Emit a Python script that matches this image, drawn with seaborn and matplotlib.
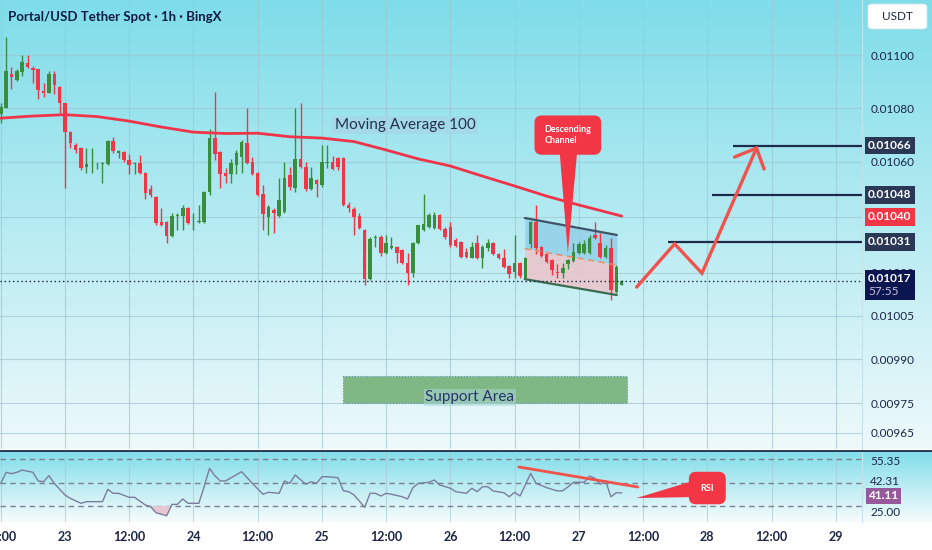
import numpy as np
import matplotlib
matplotlib.use('Agg')
import matplotlib.pyplot as plt
import matplotlib.transforms as mtransforms
from matplotlib.patches import Polygon, FancyBboxPatch
from matplotlib.lines import Line2D
from matplotlib.colors import LinearSegmentedColormap
from matplotlib.ticker import FixedLocator, NullLocator
import seaborn as sns

sns.set_style('white')
plt.rcParams['font.family'] = ['Lato', 'DejaVu Sans']

# ---------------- data ----------------
hours = list(range(117))  # hourly candles from 22 12:00
open_ = [0.010777, 0.010800, 0.010928, 0.010905, 0.010935, 0.010969, 0.010950, 0.010947, 0.010864, 0.010856,
         0.010928, 0.010879, 0.010819, 0.010710, 0.010662, 0.010651, 0.010581, 0.010592, 0.010592, 0.010592,
         0.010592, 0.010677, 0.010633, 0.010636, 0.010607, 0.010592, 0.010596, 0.010559, 0.010501, 0.010471,
         0.010381, 0.010381, 0.010331, 0.010403, 0.010403, 0.010432, 0.010381, 0.010381, 0.010381, 0.010490,
         0.010688, 0.010636, 0.010559, 0.010556, 0.010588, 0.010618, 0.010669, 0.010599, 0.010559, 0.010483,
         0.010399, 0.010425, 0.010403, 0.010417, 0.010552, 0.010504, 0.010610, 0.010581, 0.010501, 0.010534,
         0.010515, 0.010596, 0.010599, 0.010614, 0.010614, 0.010443, 0.010428, 0.010403, 0.010353, 0.010178,
         0.010324, 0.010327, 0.010271, 0.010288, 0.010292, 0.010281, 0.010235, 0.010199, 0.010306, 0.010353,
         0.010363, 0.010360, 0.010407, 0.010356, 0.010363, 0.010317, 0.010310, 0.010274, 0.010253, 0.010306,
         0.010253, 0.010288, 0.010306, 0.010267, 0.010253, 0.010224, 0.010203, 0.010235, 0.010182, 0.010302,
         0.010381, 0.010292, 0.010267, 0.010246, 0.010203, 0.010199, 0.010232, 0.010242, 0.010271, 0.010271,
         0.010271, 0.010335, 0.010306, 0.010256, 0.010288, 0.010132, 0.010157]
high = [0.010819, 0.011069, 0.010954, 0.010947, 0.011000, 0.011000, 0.010958, 0.010947, 0.010894, 0.010939,
        0.010939, 0.010882, 0.010819, 0.010714, 0.010669, 0.010655, 0.010651, 0.010651, 0.010599, 0.010599,
        0.010681, 0.010692, 0.010644, 0.010640, 0.010629, 0.010599, 0.010625, 0.010563, 0.010515, 0.010475,
        0.010432, 0.010385, 0.010414, 0.010414, 0.010443, 0.010435, 0.010414, 0.010443, 0.010493, 0.010721,
        0.010860, 0.010640, 0.010577, 0.010610, 0.010644, 0.010681, 0.010800, 0.010618, 0.010563, 0.010515,
        0.010443, 0.010432, 0.010541, 0.010599, 0.010581, 0.010800, 0.010819, 0.010599, 0.010581, 0.010537,
        0.010662, 0.010662, 0.010621, 0.010618, 0.010618, 0.010454, 0.010435, 0.010414, 0.010356, 0.010327,
        0.010335, 0.010335, 0.010335, 0.010327, 0.010295, 0.010285, 0.010271, 0.010310, 0.010371, 0.010483,
        0.010414, 0.010417, 0.010410, 0.010363, 0.010381, 0.010324, 0.010313, 0.010288, 0.010310, 0.010335,
        0.010299, 0.010320, 0.010310, 0.010271, 0.010285, 0.010228, 0.010335, 0.010239, 0.010256, 0.010385,
        0.010443, 0.010295, 0.010271, 0.010249, 0.010232, 0.010235, 0.010249, 0.010306, 0.010310, 0.010317,
        0.010335, 0.010381, 0.010342, 0.010299, 0.010324, 0.010228, 0.010175]
low = [0.010744, 0.010800, 0.010871, 0.010901, 0.010920, 0.010950, 0.010894, 0.010834, 0.010841, 0.010856,
       0.010852, 0.010781, 0.010504, 0.010651, 0.010633, 0.010570, 0.010559, 0.010559, 0.010574, 0.010523,
       0.010588, 0.010633, 0.010614, 0.010599, 0.010556, 0.010556, 0.010556, 0.010464, 0.010471, 0.010371,
       0.010367, 0.010306, 0.010327, 0.010353, 0.010353, 0.010374, 0.010353, 0.010378, 0.010378, 0.010479,
       0.010607, 0.010504, 0.010523, 0.010523, 0.010556, 0.010559, 0.010592, 0.010552, 0.010475, 0.010353,
       0.010335, 0.010342, 0.010399, 0.010414, 0.010497, 0.010490, 0.010577, 0.010493, 0.010497, 0.010471,
       0.010508, 0.010577, 0.010570, 0.010570, 0.010439, 0.010417, 0.010335, 0.010356, 0.010157, 0.010175,
       0.010292, 0.010260, 0.010267, 0.010285, 0.010235, 0.010232, 0.010157, 0.010185, 0.010302, 0.010349,
       0.010360, 0.010356, 0.010353, 0.010320, 0.010292, 0.010292, 0.010253, 0.010253, 0.010253, 0.010249,
       0.010217, 0.010278, 0.010264, 0.010249, 0.010217, 0.010182, 0.010182, 0.010182, 0.010178, 0.010288,
       0.010267, 0.010256, 0.010235, 0.010192, 0.010182, 0.010182, 0.010214, 0.010239, 0.010267, 0.010267,
       0.010267, 0.010320, 0.010253, 0.010253, 0.010104, 0.010129, 0.010157]
close = [0.010804, 0.010939, 0.010916, 0.010939, 0.010973, 0.010954, 0.010943, 0.010867, 0.010856, 0.010928,
         0.010886, 0.010819, 0.010710, 0.010669, 0.010644, 0.010577, 0.010592, 0.010593, 0.010593, 0.010596,
         0.010677, 0.010640, 0.010640, 0.010607, 0.010589, 0.010596, 0.010559, 0.010486, 0.010479, 0.010378,
         0.010370, 0.010331, 0.010403, 0.010405, 0.010432, 0.010378, 0.010383, 0.010385, 0.010490, 0.010688,
         0.010629, 0.010556, 0.010548, 0.010596, 0.010633, 0.010673, 0.010596, 0.010556, 0.010479, 0.010410,
         0.010435, 0.010414, 0.010461, 0.010541, 0.010508, 0.010610, 0.010581, 0.010501, 0.010541, 0.010519,
         0.010599, 0.010599, 0.010574, 0.010581, 0.010443, 0.010432, 0.010399, 0.010360, 0.010178, 0.010320,
         0.010327, 0.010271, 0.010306, 0.010295, 0.010271, 0.010235, 0.010199, 0.010306, 0.010371, 0.010374,
         0.010407, 0.010407, 0.010356, 0.010327, 0.010299, 0.010295, 0.010256, 0.010256, 0.010292, 0.010253,
         0.010292, 0.010306, 0.010267, 0.010253, 0.010221, 0.010196, 0.010235, 0.010189, 0.010253, 0.010381,
         0.010288, 0.010260, 0.010239, 0.010210, 0.010199, 0.010217, 0.010246, 0.010274, 0.010302, 0.010302,
         0.010324, 0.010324, 0.010256, 0.010288, 0.010139, 0.010221, 0.010170]

ma_hours = [0, 6, 12, 18, 24, 30, 36, 42, 48, 54, 60, 66, 72, 78, 84, 90, 96, 102, 108, 116]
ma100 = [0.010762, 0.010770, 0.010775, 0.010768, 0.010751, 0.010729, 0.010710, 0.010705, 0.010706, 0.010693,
         0.010688, 0.010675, 0.010644, 0.010611, 0.010585, 0.010548, 0.010512, 0.010475, 0.010443, 0.010403]

rsi_hours = [0, 1, 2, 3, 4, 6, 7, 8, 9, 10, 12, 13, 15, 16, 19, 20, 21, 22, 24, 25, 27, 28, 29, 31, 32,
             33, 34, 35, 37, 38, 39, 40, 41, 42, 45, 47, 49, 50, 52, 53, 54, 55, 57, 58, 59, 60, 61, 63, 64, 65,
             66, 68, 69, 70, 71, 72, 73, 75, 76, 77, 78, 80, 81, 82, 84, 85, 87, 88, 89, 90, 91, 92, 94, 95, 96,
             97, 98, 99, 100, 102, 104, 105, 106, 107, 109, 110, 111, 112, 113, 114, 115, 116]
rsi = [49.3, 58.7, 57.5, 58.7, 60.6, 58.7, 51.3, 50.7, 55.8, 49.3, 39.4, 36.5, 32.3, 33.7, 33.7, 44.2, 40.8,
       40.8, 37.4, 37.4, 30.9, 29.4, 24.3, 21.7, 31.4, 31.4, 36.0, 32.3, 32.3, 46.4, 62.1, 55.8, 51.3, 51.3,
       59.2, 49.3, 40.0, 41.7, 40.8, 51.3, 49.3, 56.4, 48.5, 50.7, 49.3, 54.9, 54.9, 54.1, 43.0, 42.2, 39.4,
       28.9, 40.8, 40.8, 38.5, 40.8, 40.0, 37.9, 36.0, 45.6, 49.3, 50.2, 52.1, 47.9, 45.1, 42.2, 40.8, 45.1,
       42.2, 46.4, 46.4, 42.8, 41.3, 37.9, 41.7, 38.5, 47.9, 57.8, 49.3, 45.6, 42.8, 43.0, 46.4, 50.2, 50.2,
       55.5, 53.6, 48.5, 51.3, 37.9, 41.3, 41.11]

date_ticks = [0, 12, 24, 36, 48, 60, 72, 84, 96, 108, 120, 132, 144, 156]
date_labels = ['12:00', '23', '12:00', '24', '12:00', '25', '12:00', '26', '12:00', '27', '12:00', '28', '12:00', '29']
price_ticks = [0.00965, 0.00975, 0.00990, 0.01005, 0.01020, 0.01040, 0.01060, 0.01080, 0.01100]
price_tick_labels = ['0.00965', '0.00975', '0.00990', '0.01005', '0.01020', '', '0.01060', '0.01080', '0.01100']

channel_hours = [97.9, 115.1]
channel_upper = [0.010396, 0.010335]
channel_mid = [0.010286, 0.010228]
channel_lower = [0.010178, 0.010122]

support_hours = [63.9, 117.0]
support_low, support_high = 0.009750, 0.009842

level_starts = [136.8, 132.8, 124.6]
level_prices = [0.01066, 0.01048, 0.01031]
last_price = 0.01017
ma_last = 0.01040

proj_hours = [118.8, 125.9, 131.0, 141.2]
proj_prices = [0.010150, 0.010303, 0.010199, 0.010651]
head_hours = [137.1, 141.2, 142.6]
head_prices = [0.010618, 0.010651, 0.010574]

rsi_trend_hours = [96.8, 119.0]
rsi_trend_vals = [63.2, 46.2]
rsi_bands = [70, 50, 30]
rsi_label_pos = [68.3, 51.3, 25.7]
rsi_band_labels = ['55.35', '42.31', '25.00']
rsi_last = 41.11

# ---------------- styling ----------------
W, H = 932, 550
GREEN = '#388e3c'
RED = '#f23645'
NAVY = '#1c2545'
ARROW = '#f0524c'
XMIN, XMAX = -0.14, 160.9

fig = plt.figure(figsize=(W / 100, H / 100), dpi=100, facecolor='white')


def gradient_axes(rect, top, bottom):
    a = fig.add_axes(rect)
    cmap = LinearSegmentedColormap.from_list('g', [bottom, top])
    grad = np.linspace(0, 1, 256).reshape(-1, 1)
    a.imshow(grad, aspect='auto', cmap=cmap, origin='lower', extent=[0, 1, 0, 1])
    a.set_axis_off()
    return a


gradient_axes([0, 101 / H, 1, 449 / H], '#7edde9', '#eef9fb')
gradient_axes([0, 28 / H, 1, 71 / H], '#80dde9', '#f7fcfd')

ax = fig.add_axes([0, 101 / H, 862 / W, 449 / H])
ax.set_facecolor('none')
ax.set_yscale('log')
ax.set_xlim(XMIN, XMAX)
ax.set_ylim(0.009596, 0.011212)
for s in ['top', 'left', 'bottom']:
    ax.spines[s].set_visible(False)
ax.spines['right'].set_color('#c4e2e8')
ax.yaxis.tick_right()
ax.yaxis.set_major_locator(FixedLocator(price_ticks))
ax.yaxis.set_minor_locator(NullLocator())
ax.set_yticklabels(price_tick_labels)
ax.set_xticks(date_ticks)
ax.tick_params(axis='x', length=0, labelbottom=False)
ax.tick_params(axis='y', length=0, pad=6, labelsize=8.5, labelcolor=NAVY)
ax.grid(True, color='#9fc6d0', lw=0.8, alpha=0.7)
ax.set_axisbelow(True)

# candles
o = np.array(open_)
c = np.array(close)
colors = np.where(c >= o, GREEN, RED)
ax.vlines(hours, low, high, colors=colors, lw=1, zorder=3)
body_bottom = np.minimum(o, c)
body_h = np.maximum(np.abs(c - o), 0.0000012)
ax.bar(hours, body_h, bottom=body_bottom, width=0.66, color=colors, linewidth=0, zorder=3)

# moving average
sns.lineplot(x=ma_hours, y=ma100, ax=ax, color='#ee3449', linewidth=2, zorder=4)
ax.text(75.5, 0.010736, 'Moving Average 100', fontsize=11, color='#26304f', ha='center', va='center',
        bbox=dict(boxstyle='square,pad=0.15', fc='#a6d9e6', ec='none', alpha=0.85), zorder=5)

# descending channel
ax.fill_between(channel_hours, channel_mid, channel_upper, color='#8fcfe8', alpha=0.8, lw=0, zorder=2)
ax.fill_between(channel_hours, channel_lower, channel_mid, color='#e9c6cc', alpha=0.9, lw=0, zorder=2)
ax.plot(channel_hours, channel_upper, color='#3f5468', lw=1.6, zorder=4)
ax.plot(channel_hours, channel_lower, color='#3b6b50', lw=1.6, zorder=4)
ax.plot(channel_hours, channel_mid, color='#ef8a62', lw=1.1, ls=(0, (4, 3)), zorder=4)

# callout
ax.add_patch(Polygon([(104.4, 0.010640), (107.7, 0.010640), (105.95, 0.010270)], closed=True,
                     fc=RED, ec='none', zorder=6))
ax.text(105.95, 0.010699, 'Descending\nChannel', fontsize=6.5, color='white', fontweight='bold',
        ha='center', va='center', multialignment='left', zorder=7,
        bbox=dict(boxstyle='round,pad=1.1,rounding_size=0.8', fc=RED, ec='none'))

# support area
ax.fill_between(support_hours, support_low, support_high, color='#7fb785', lw=0.8, ec='#5f8fb5',
                ls=':', zorder=2)
ax.text(87.6, 0.009770, 'Support Area', fontsize=11, color='#26346a', ha='center', va='center',
        bbox=dict(boxstyle='square,pad=0.1', fc='#a9d6d6', ec='none', alpha=0.55), zorder=5)

# current price line
ax.axhline(last_price, color='#1a2040', ls=(0, (1, 2)), lw=1, zorder=4)

# targets
ax.hlines(level_prices, level_starts, XMAX, color='#1d2a4c', lw=1.6, zorder=4)
ax.plot(proj_hours, proj_prices, color=ARROW, lw=2.4, zorder=6, solid_joinstyle='miter')
ax.plot(head_hours, head_prices, color=ARROW, lw=2.4, zorder=6, solid_joinstyle='miter')

trans = mtransforms.blended_transform_factory(ax.transAxes, ax.transData)


def tag(axis, tr, y, text, fc, color='white', dy=0, pad=0.28):
    axis.annotate(text, xy=(1, y), xycoords=tr, xytext=(4.5, dy), textcoords='offset points',
                  ha='left', va='center', fontsize=8.5, color=color, fontweight='bold',
                  annotation_clip=False, zorder=10,
                  bbox=dict(boxstyle=f'square,pad={pad}', fc=fc, ec='none'))


for p in level_prices:
    tag(ax, trans, p, f'{p:.5f}', '#2a3855')
tag(ax, trans, ma_last, f'{ma_last:.5f}', RED)
ax.annotate(f'{last_price:.5f}\n ', xy=(1, last_price), xycoords=trans, xytext=(4.5, 6),
            textcoords='offset points', ha='left', va='top', fontsize=8.5, color='white',
            fontweight='bold', annotation_clip=False, zorder=10,
            bbox=dict(boxstyle='square,pad=0.3', fc='#0b1650', ec='none'))
ax.annotate(' \n57:55', xy=(1, last_price), xycoords=trans, xytext=(4.5, 6),
            textcoords='offset points', ha='left', va='top', fontsize=8.5, color='#c9c3dc',
            annotation_clip=False, zorder=11)

# ---------------- RSI panel ----------------
rax = fig.add_axes([0, 28 / H, 862 / W, 71 / H])
rax.set_facecolor('none')
rax.set_xlim(XMIN, XMAX)
rax.set_ylim(16.4, 76.8)
for s in ['top', 'left', 'bottom']:
    rax.spines[s].set_visible(False)
rax.spines['right'].set_color('#c4e2e8')
rax.yaxis.tick_right()
rax.set_yticks(rsi_label_pos)
rax.set_yticklabels(rsi_band_labels)
rax.set_xticks(date_ticks)
rax.set_xticklabels(date_labels)
rax.tick_params(axis='x', length=0, pad=6.5, labelsize=9, labelcolor=NAVY)
rax.tick_params(axis='y', length=0, pad=6, labelsize=8.5, labelcolor=NAVY)
for t in rax.get_xticklabels():
    t.set_fontweight('bold')
rax.grid(True, axis='x', color='#a9c9d2', lw=0.8, alpha=0.7)
rax.set_axisbelow(True)
for b in rsi_bands:
    rax.axhline(b, color='#7d8090', ls=(0, (4, 3)), lw=1, zorder=2)
rsi_arr = np.array(rsi)
rax.fill_between(rsi_hours, rsi_arr, 30, where=rsi_arr < 30, interpolate=True, color='#e6c6d0',
                 lw=0, zorder=2)
sns.lineplot(x=rsi_hours, y=rsi, ax=rax, color='#7a7d9c', linewidth=1, zorder=3)
rax.set_xlabel('')
rax.set_ylabel('')
rax.plot(rsi_trend_hours, rsi_trend_vals, color=ARROW, lw=2, zorder=4)
rax.add_patch(Polygon([(118.8, 36.8), (130.5, 53.0), (130.5, 37.7)], closed=True, fc=RED, ec='none', zorder=5))
rax.text(132.0, 45.3, 'RSI', fontsize=6.5, color='white', fontweight='bold', ha='center', va='center',
         zorder=6, bbox=dict(boxstyle='round,pad=1.3,rounding_size=0.8', fc=RED, ec='none'))
rtrans = mtransforms.blended_transform_factory(rax.transAxes, rax.transData)
tag(rax, rtrans, rsi_last, f'{rsi_last:.2f}', '#965a9c', dy=-2.0, pad=0.2)

ax.set_xlabel('')
ax.set_ylabel('')

# panel separator
fig.add_artist(Line2D([0, 1], [1 - 450.5 / H, 1 - 450.5 / H], color='#1e2a4c', lw=1.3))

# title and currency box
fig.text(8 / W, 1 - 17 / H, 'Portal/USD Tether Spot · 1h · BingX', fontsize=9.5, color='#131c46',
         fontweight='bold', ha='left', va='center')
fig.patches.append(FancyBboxPatch((868 / W, 1 - 29 / H), 59 / W, 25 / H,
                                  boxstyle='round,pad=0,rounding_size=0.005',
                                  transform=fig.transFigure, fc='white', ec='#d8e6ea', lw=0.6,
                                  figure=fig))
fig.text(897 / W, 1 - 17 / H, 'USDT', fontsize=8.5, color=NAVY, ha='center', va='center')

fig.savefig('out.png', dpi=100, facecolor='white')
